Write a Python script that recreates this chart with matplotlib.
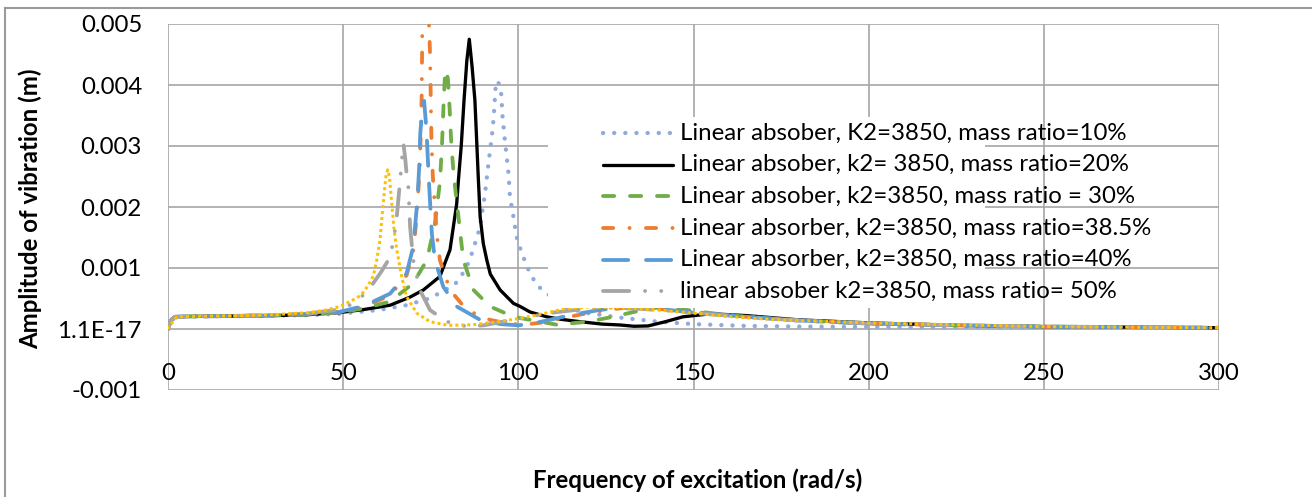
import matplotlib
matplotlib.use("Agg")
import matplotlib.pyplot as plt
from matplotlib.lines import Line2D
from matplotlib.patches import Rectangle

plt.rcParams['font.family'] = ['Lato', 'DejaVu Sans']
plt.rcParams['lines.scale_dashes'] = False

# ---- data: frequency (rad/s) and amplitude (m) for each mass ratio ----
x_10 = [0, 0.5, 1, 2, 3, 5, 10, 20, 30, 40, 49, 60, 68, 74, 78, 82, 85, 87, 89, 90.5,
        91.4, 91.9, 92.7, 93.1, 93.5, 94.1, 94.7, 95.1, 95.5, 96, 96.7, 97.2, 97.6, 98.6,
        99.5, 101, 102.9, 105.2, 108.1, 111, 114, 120, 130, 140, 150, 165, 180, 200, 225,
        250, 275, 300]
y_10 = [0, 0.00008, 0.00014, 0.00019, 0.0002, 0.000203, 0.000207, 0.000212, 0.000218,
        0.000228, 0.00025, 0.00031, 0.00039, 0.00049, 0.0006, 0.00074, 0.00098, 0.00128,
        0.00166, 0.00222, 0.00268, 0.00291, 0.00329, 0.00359, 0.00395, 0.00407, 0.00398,
        0.00386, 0.00348, 0.00318, 0.00281, 0.00255, 0.00217, 0.00184, 0.00151, 0.00124,
        0.00097, 0.00072, 0.00059, 0.00045, 0.00034, 0.00026, 0.00018, 0.00012, 0.00008,
        0.00005, 0.00004, 0.000035, 0.00003, 0.000025, 0.00002, 0.000015]

x_20 = [0, 0.5, 1, 2, 3, 5, 10, 20, 30, 40, 49, 56, 63.4, 69, 72.9, 77.6, 80.5, 82.4,
        82.9, 83.7, 84.5, 85.3, 86.0, 86.8, 87.6, 88.1, 88.6, 89.1, 90, 91, 92, 94.8, 98.6,
        100.5, 103.3, 108.1, 112, 117.6, 124, 129, 133, 137, 142, 147, 155, 165, 180, 200,
        225, 250, 275, 300]
y_20 = [0, 0.0001, 0.00016, 0.0002, 0.000203, 0.000205, 0.000208, 0.000213, 0.00022,
        0.000235, 0.00027, 0.00032, 0.00039, 0.00052, 0.00064, 0.00086, 0.0013, 0.00205,
        0.00244, 0.003, 0.00375, 0.0044, 0.00475, 0.0043, 0.00375, 0.0031, 0.00244,
        0.00184, 0.0014, 0.00113, 0.0009, 0.00064, 0.00042, 0.00037, 0.00028, 0.0002,
        0.00016, 0.00012, 0.00008, 0.000066, 0.000045, 0.00005, 0.00012, 0.0002, 0.00025,
        0.00022, 0.00015, 0.0001, 0.00006, 0.00004, 0.00003, 0.00002]

x_30 = [0, 0.5, 1, 2, 3, 5, 10, 20, 30, 40, 49, 56, 63.4, 70, 73.9, 76.2, 77.6, 78.2,
        78.6, 79.0, 79.4, 79.9, 80.4, 80.9, 81.6, 82.9, 84.3, 87.2, 91.9, 98.6, 106.2, 111,
        120, 127, 133, 138, 142, 147, 155, 165, 180, 200, 225, 250, 275, 300]
y_30 = [0, 0.00009, 0.00015, 0.0002, 0.000203, 0.000205, 0.000208, 0.000214, 0.000222,
        0.00024, 0.00027, 0.00034, 0.00045, 0.00075, 0.00113, 0.00173, 0.0024, 0.003,
        0.0036, 0.0041, 0.00425, 0.0041, 0.0036, 0.003, 0.0025, 0.00184, 0.00113, 0.00064,
        0.00037, 0.0002, 0.00012, 0.00007, 0.00012, 0.0002, 0.00028, 0.00034, 0.00036,
        0.00032, 0.00026, 0.0002, 0.00014, 0.00009, 0.00006, 0.00004, 0.00003, 0.00002]

x_385 = [0, 0.5, 1, 2, 3, 5, 10, 20, 30, 40, 49, 56, 63.4, 68.1, 70, 71, 71.9, 72.4,
         72.6, 73.0, 73.5, 74.0, 74.5, 74.8, 75.2, 75.6, 76.7, 77.6, 80.5, 85.3, 91.9, 97,
         101.4, 106, 112, 118, 125, 132, 140, 150, 165, 180, 200, 225, 250, 275, 300]
y_385 = [0, 0.00009, 0.00015, 0.0002, 0.000203, 0.000205, 0.000208, 0.000214, 0.000223,
         0.000243, 0.00028, 0.00037, 0.00055, 0.00088, 0.00128, 0.00184, 0.0027, 0.0038,
         0.005, 0.0058, 0.0062, 0.0057, 0.005, 0.0045, 0.0031, 0.0025, 0.00157, 0.00113,
         0.00064, 0.00031, 0.00015, 0.00009, 0.00007, 0.0001, 0.00017, 0.00024, 0.00031,
         0.00036, 0.00033, 0.00028, 0.0002, 0.00014, 0.00009, 0.00006, 0.00004, 0.00003,
         0.00002]

x_40 = [0, 0.5, 1, 2, 3, 5, 10, 20, 30, 40, 49, 56, 63.4, 68.1, 70, 71.2, 71.7, 72.0,
        72.6, 73.1, 73.7, 74.0, 74.5, 75.3, 76.2, 78.6, 82.4, 89.1, 95, 100, 105, 112, 118,
        123, 130, 138, 145, 150, 165, 180, 200, 225, 250, 275, 300]
y_40 = [0, 0.00009, 0.00015, 0.0002, 0.000203, 0.000205, 0.000208, 0.000214, 0.000224,
        0.000245, 0.00028, 0.00038, 0.00058, 0.00091, 0.00135, 0.00211, 0.00266, 0.0032,
        0.00362, 0.00374, 0.00332, 0.00299, 0.0024, 0.00157, 0.00113, 0.00069, 0.00037,
        0.00015, 0.00008, 0.00006, 0.0001, 0.00019, 0.00026, 0.00031, 0.00036, 0.00034,
        0.0003, 0.00027, 0.0002, 0.00014, 0.00009, 0.00006, 0.00004, 0.00003, 0.00002]

x_50 = [0, 0.5, 1, 2, 3, 5, 10, 20, 30, 40, 49, 53, 57, 61, 63.4, 64.5, 65.3, 66.2, 66.8,
        67.2, 67.7, 68.1, 68.6, 69.1, 70, 71.9, 74.8, 79.6, 85.3, 90, 98.5, 105, 110, 117.6,
        125, 135, 145, 155, 165, 180, 200, 225, 250, 275, 300]
y_50 = [0, 0.00009, 0.00015, 0.0002, 0.000203, 0.000205, 0.000209, 0.000216, 0.000228,
        0.000255, 0.00032, 0.00042, 0.00062, 0.00095, 0.00118, 0.0015, 0.00184, 0.0024,
        0.0028, 0.00304, 0.0028, 0.00255, 0.00233, 0.00168, 0.00113, 0.00064, 0.00031,
        0.00012, 0.00004, 0.00006, 0.00015, 0.00022, 0.00027, 0.00032, 0.00035, 0.00033,
        0.00029, 0.00024, 0.0002, 0.00014, 0.00009, 0.00006, 0.00004, 0.00003, 0.00002]

x_60 = [0, 0.5, 1, 2, 2.5, 3, 5, 10, 20, 30, 40, 45, 49.1, 52, 55, 57, 58.6, 59.5, 60.5,
        61.5, 62.2, 62.7, 63.2, 63.8, 64.5, 65.3, 66.7, 68.1, 71, 74.8, 80, 87, 93, 100,
        107, 113, 120, 130, 140, 150, 163, 175, 200, 225, 250, 275, 300]
y_60 = [0, 0.00005, 0.00009, 0.00016, 0.00019, 0.0002, 0.000205, 0.00021, 0.000218,
        0.000235, 0.000268, 0.00031, 0.00037, 0.00045, 0.00055, 0.0007, 0.00087, 0.0011,
        0.00146, 0.0021, 0.0025, 0.00261, 0.0025, 0.0021, 0.00165, 0.0013, 0.00086,
        0.00053, 0.00026, 0.00012, 0.00006, 0.00007, 0.00011, 0.00017, 0.00025, 0.00033,
        0.00036, 0.00035, 0.00031, 0.00026, 0.00019, 0.00015, 0.0001, 0.00007, 0.00004,
        0.00003, 0.00002]

labels = [
    "Linear absober, K2=3850, mass ratio=10%",
    "Linear absober, k2= 3850, mass ratio=20%",
    "Linear absober, k2=3850, mass ratio = 30%",
    "Linear absorber, k2=3850, mass ratio=38.5%",
    "Linear absorber, k2=3850, mass ratio=40%",
    "linear absober k2=3850, mass ratio= 50%",
]

x_ticks = [0, 50, 100, 150, 200, 250, 300]
y_ticks = [-0.001, 0.0, 0.001, 0.002, 0.003, 0.004, 0.005]
y_tick_labels = ["-0.001", "1.1E-17", "0.001", "0.002", "0.003", "0.004", "0.005"]

# ---- line styles (dash lengths in points) ----
PX = 0.72  # points per pixel at 100 dpi
styles = [
    dict(color="#8FAADC", lw=4.3 * PX, dash=(0, (0.1, 11 * PX)), cap="round"),
    dict(color="#000000", lw=3.3 * PX, dash="-", cap="round"),
    dict(color="#70AD47", lw=3.8 * PX, dash=(0, (11.2 * PX, 15.8 * PX)), cap="round"),
    dict(color="#ED7D31", lw=3.8 * PX,
         dash=(0, (10.2 * PX, 16.3 * PX, 0.1, 16.3 * PX)), cap="round"),
    dict(color="#5B9BD5", lw=3.8 * PX, dash=(0, (25.2 * PX, 17.8 * PX)), cap="round"),
    dict(color="#A5A5A5", lw=3.8 * PX,
         dash=(0, (26.2 * PX, 15.8 * PX, 0.1, 16 * PX, 0.1, 15.8 * PX)), cap="round"),
    dict(color="#FFC000", lw=3.0 * PX, dash=(0, (3 * PX, 3 * PX)), cap="butt"),
]

series = [(x_10, y_10), (x_20, y_20), (x_30, y_30), (x_385, y_385),
          (x_40, y_40), (x_50, y_50), (x_60, y_60)]

W, H = 1312, 497
FS = 17.3
fig = plt.figure(figsize=(W / 100, H / 100), dpi=100)
fig.patch.set_facecolor("white")

# plot area in pixels
L, R, T, B = 168, 1219, 24, 390
ax = fig.add_axes([L / W, 1 - B / H, (R - L) / W, (B - T) / H])
ax.set_xlim(0, 300)
ax.set_ylim(-0.001, 0.005)
for s in ax.spines.values():
    s.set_visible(False)

grid_c = "#A6A6A6"
ax.set_xticks(x_ticks)
ax.set_yticks(y_ticks)
ax.grid(True, color=grid_c, lw=1.2, zorder=0)
ax.set_axisbelow(True)
ax.tick_params(length=0)
ax.set_xticklabels([])
ax.set_yticklabels(y_tick_labels, fontsize=FS)
ax.tick_params(axis="y", pad=(L - 142) * PX)

# x tick labels sit just below the zero line
for xv in x_ticks:
    ax.text(xv, (329 - 373) / 61000.0, str(xv), ha="center", va="center", fontsize=FS)

for (xs, ys), st in zip(series, styles):
    ln, = ax.plot(xs, ys, color=st["color"], lw=st["lw"], zorder=3,
                  solid_capstyle="round", solid_joinstyle="round")
    if st["dash"] != "-":
        ln.set_linestyle(st["dash"])
        ln.set_dash_capstyle(st["cap"])

# legend box (white, covers what lies beneath)
def px2fig(px, py):
    return px / W, 1 - py / H

lx0, ly0 = px2fig(548, 308)
lx1, ly1 = px2fig(985, 117)
fig.add_artist(Rectangle((lx0, ly0), lx1 - lx0, ly1 - ly0, transform=fig.transFigure,
                         facecolor="white", edgecolor="none", zorder=5))
row_y = [133, 164.6, 196.3, 228, 259.6, 291.3]
for lab, st, ry in zip(labels, styles[:6], row_y):
    (hx0, hy), (hx1, _) = px2fig(603, ry), px2fig(673, ry)
    h = Line2D([hx0, hx1], [hy, hy], transform=fig.transFigure, color=st["color"],
               lw=st["lw"], zorder=6, solid_capstyle="round")
    if st["dash"] != "-":
        h.set_linestyle(st["dash"])
        h.set_dash_capstyle(st["cap"])
    fig.add_artist(h)
    tx, ty = px2fig(680, ry)
    fig.text(tx, ty, lab, ha="left", va="center", fontsize=FS, zorder=7)

# axis titles
fig.text(698 / W, 1 - 480 / H, "Frequency of excitation (rad/s)", ha="center",
         va="center", fontsize=FS, fontweight="bold")
fig.text(30 / W, 1 - 209 / H, "Amplitude of vibration (m)", ha="center", va="center",
         rotation=90, fontsize=FS, fontweight="bold")

# chart border
bc = "#9A9A9A"
fig.add_artist(Line2D([5 / W, 1], [1 - 8 / H, 1 - 8 / H], transform=fig.transFigure,
                      color=bc, lw=1.5))
fig.add_artist(Line2D([5 / W, 5 / W], [1 - 8 / H, 0], transform=fig.transFigure,
                      color=bc, lw=1.5))

fig.savefig("out.png", dpi=100)
